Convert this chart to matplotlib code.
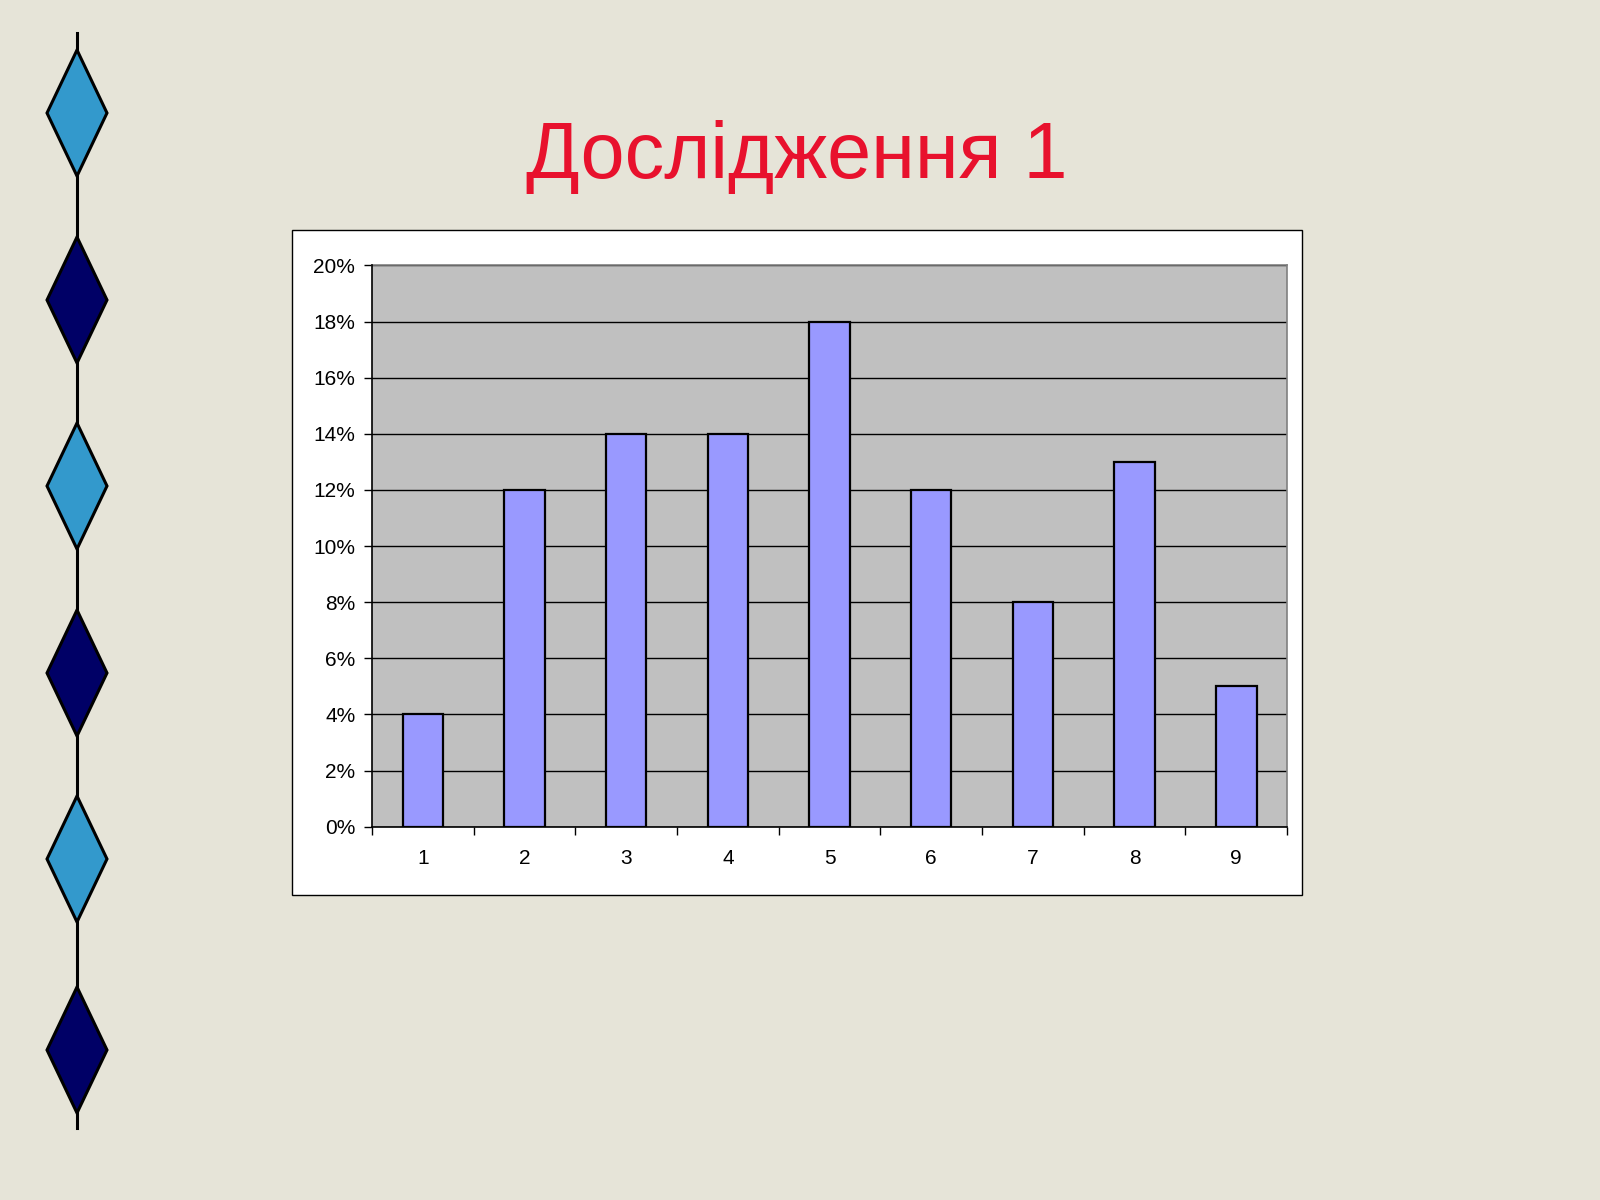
import matplotlib
matplotlib.use("Agg")
import matplotlib.pyplot as plt
from matplotlib.patches import Rectangle, Polygon
from matplotlib.ticker import FixedLocator, FuncFormatter

categories = ["1", "2", "3", "4", "5", "6", "7", "8", "9"]
values = [0.04, 0.12, 0.14, 0.14, 0.18, 0.12, 0.08, 0.13, 0.05]
y_ticks = [0.0, 0.02, 0.04, 0.06, 0.08, 0.10, 0.12, 0.14, 0.16, 0.18, 0.20]
title = "Дослідження 1"

W, H = 1600, 1200
fig = plt.figure(figsize=(16, 12), dpi=100)
fig.patch.set_facecolor("#E6E4D8")

# decoration overlay in pixel coordinates
deco = fig.add_axes([0, 0, 1, 1])
deco.set_xlim(0, W)
deco.set_ylim(H, 0)
deco.axis("off")
deco.plot([77, 77], [33, 1128], color="black", lw=2.2, zorder=1)
centres = [113, 300, 486, 673, 859, 1050]
colours = ["#3399CC", "#000066"]
for i, cy in enumerate(centres):
    deco.add_patch(Polygon([(77, cy - 63), (107, cy), (77, cy + 63), (47, cy)],
                           closed=True, facecolor=colours[i % 2],
                           edgecolor="black", lw=2.2, zorder=2))

# chart box
deco.add_patch(Rectangle((292, 230), 1010, 665, facecolor="white",
                         edgecolor="black", lw=1.0, zorder=1))

fig.text(797, H - 158, title, transform=None, ha="center", va="center",
         fontsize=57, color="#E8112D", family=["Liberation Sans", "DejaVu Sans"])

# plot area
l, r, t, b = 372, 1287, 265.5, 826.7
ax = fig.add_axes([l / W, 1 - b / H, (r - l) / W, (b - t) / H])
ax.set_facecolor("#C0C0C0")
x = list(range(1, len(categories) + 1))
ax.bar(x, values, width=0.4, color="#9999FF", edgecolor="black", lw=1.6, zorder=3)
ax.set_xlim(0.5, len(categories) + 0.5)
ax.set_ylim(0, 0.2)
ax.yaxis.set_major_locator(FixedLocator(y_ticks))
ax.yaxis.set_major_formatter(FuncFormatter(lambda v, p: f"{round(v * 100)}%"))
ax.grid(axis="y", color="black", lw=1.0, zorder=1)
ax.xaxis.set_major_locator(FixedLocator([i + 0.5 for i in range(len(categories) + 1)]))
ax.xaxis.set_major_formatter(FuncFormatter(lambda v, p: ""))
ax.xaxis.set_minor_locator(FixedLocator(x))
ax.set_xticklabels(categories, minor=True)
ax.tick_params(axis="x", which="minor", length=0, pad=16, labelsize=15)
ax.tick_params(axis="x", which="major", length=6, width=1.0, direction="out")
ax.tick_params(axis="y", length=6, width=1.0, direction="out", labelsize=15, pad=6)
for lab in ax.get_xticklabels(minor=True) + ax.get_yticklabels():
    lab.set_family(["Liberation Sans", "DejaVu Sans"])
ax.spines["left"].set_color("black")
ax.spines["bottom"].set_color("black")
ax.spines["top"].set_color("#808080")
ax.spines["right"].set_color("#808080")
for s in ax.spines.values():
    s.set_linewidth(1.2)
ax.spines["left"].set_zorder(4)
ax.spines["bottom"].set_zorder(4)

fig.savefig("out.png", dpi=100, facecolor=fig.get_facecolor())
